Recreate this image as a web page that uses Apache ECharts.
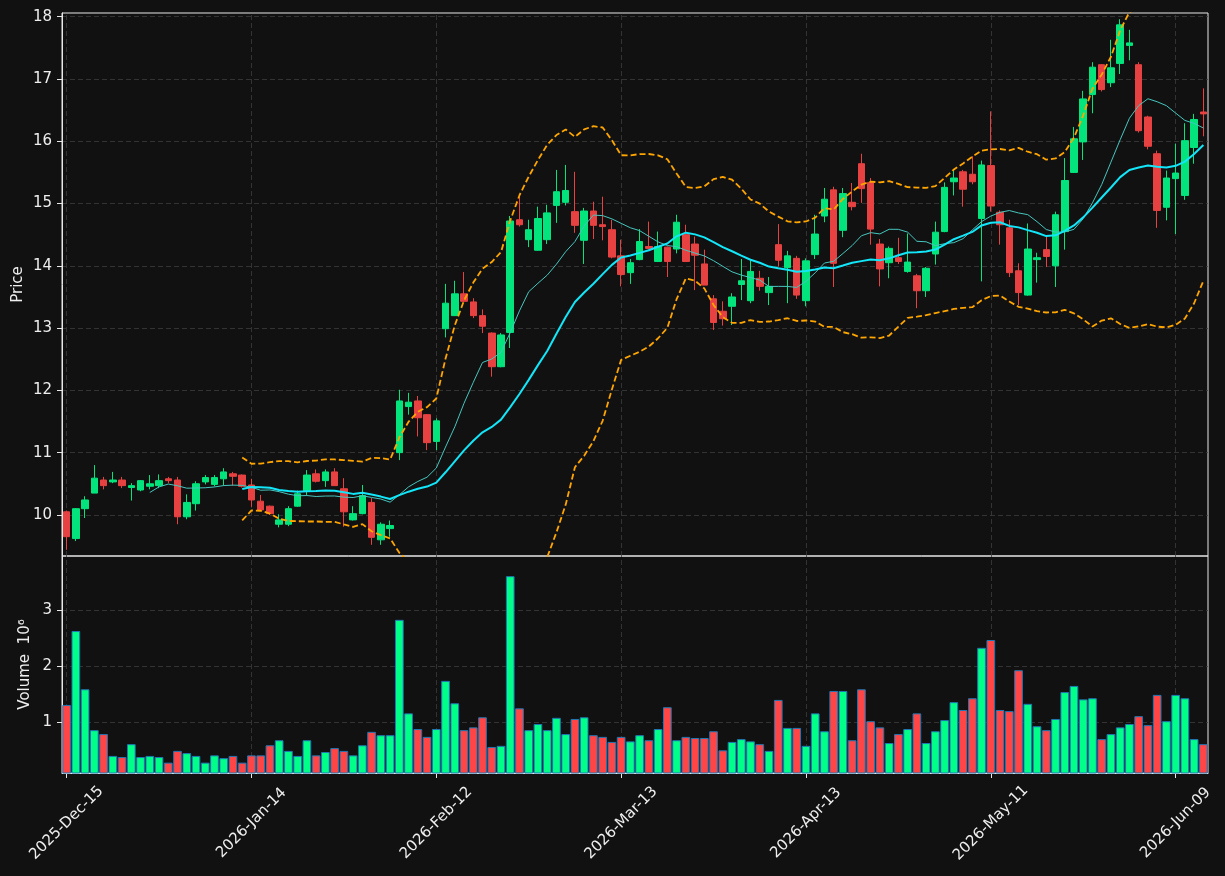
<!DOCTYPE html>
<html>
<head>
<meta charset="utf-8">
<title>Price / Volume</title>
<script src="https://cdn.jsdelivr.net/npm/echarts@6/dist/echarts.min.js"></script>
<style>
  html, body { margin: 0; padding: 0; background: #111111; }
  #chart { width: 1225px; height: 876px; }
</style>
</head>
<body>
<div id="chart"></div>
<script>
// ---------- data ----------
// trading calendar (weekdays, exchange holidays skipped)
const startDay = '2025-12-15'
const barCount = 124
const holidays = ['2025-12-25', '2026-01-01', '2026-01-19', '2026-02-16', '2026-04-03', '2026-05-25']
const labelStep = 20

const priceTicks = [10, 11, 12, 13, 14, 15, 16, 17, 18]
const volumeTicks = [1, 2, 3]

const opens = [
  10.05, 9.62, 10.10, 10.35, 10.56, 10.53, 10.56, 10.44, 10.40, 10.46,
  10.47, 10.58, 10.56, 9.97, 10.18, 10.53, 10.49, 10.58, 10.66, 10.64,
  10.48, 10.22, 10.14, 9.85, 9.85, 10.14, 10.39, 10.66, 10.55, 10.69,
  10.42, 9.92, 10.02, 10.20, 9.60, 9.78, 11.00, 11.74, 11.83, 11.61,
  11.18, 12.99, 13.20, 13.55, 13.42, 13.20, 12.92, 12.38, 12.93, 14.74,
  14.42, 14.25, 14.42, 14.97, 15.02, 14.87, 14.41, 14.88, 14.66, 14.58,
  14.16, 13.89, 14.10, 14.31, 14.07, 14.30, 14.27, 14.50, 14.35, 14.03,
  13.47, 13.27, 13.35, 13.70, 13.44, 13.80, 13.57, 14.34, 13.97, 14.12,
  13.44, 14.18, 14.80, 15.22, 14.57, 15.02, 15.64, 15.34, 14.35, 14.05,
  14.13, 13.91, 13.84, 13.60, 14.19, 14.55, 15.35, 15.51, 15.47, 14.76,
  15.61, 14.86, 14.61, 13.92, 13.53, 14.10, 14.26, 14.00, 14.55, 15.50,
  15.99, 16.75, 17.23, 16.94, 17.25, 17.54, 17.23, 16.39, 15.80, 14.94,
  15.40, 15.13, 15.90, 16.47
]
const closes = [
  9.65, 10.10, 10.24, 10.59, 10.47, 10.56, 10.47, 10.47, 10.55, 10.50,
  10.55, 10.55, 9.97, 10.20, 10.50, 10.60, 10.60, 10.69, 10.62, 10.46,
  10.24, 10.08, 10.02, 9.92, 10.10, 10.34, 10.64, 10.54, 10.69, 10.47,
  10.05, 10.02, 10.31, 9.64, 9.85, 9.83, 11.83, 11.81, 11.56, 11.16,
  11.51, 13.40, 13.55, 13.43, 13.20, 13.03, 12.38, 12.89, 14.72, 14.66,
  14.58, 14.76, 14.85, 15.19, 15.21, 14.65, 14.88, 14.65, 14.63, 14.14,
  13.86, 14.05, 14.39, 14.28, 14.31, 14.07, 14.70, 14.07, 14.17, 13.69,
  13.09, 13.15, 13.50, 13.76, 13.91, 13.67, 13.67, 14.09, 14.16, 13.53,
  14.08, 14.51, 15.07, 14.04, 15.16, 14.95, 15.24, 14.59, 13.95, 14.28,
  14.07, 14.06, 13.60, 13.96, 14.54, 15.26, 15.41, 15.23, 15.35, 15.62,
  14.96, 14.66, 13.89, 13.57, 14.27, 14.13, 14.15, 14.82, 15.37, 16.04,
  16.68, 17.19, 16.83, 17.18, 17.87, 17.58, 16.17, 15.92, 14.89, 15.41,
  15.49, 16.01, 16.35, 16.44
]
const lows = [
  9.44, 9.58, 9.95, 10.35, 10.41, 10.51, 10.43, 10.23, 10.38, 10.41,
  10.43, 10.51, 9.85, 9.93, 10.07, 10.49, 10.46, 10.47, 10.47, 10.44,
  10.13, 10.07, 10.00, 9.80, 9.82, 10.13, 10.32, 10.52, 10.45, 10.47,
  9.81, 9.91, 10.01, 9.52, 9.52, 9.65, 10.88, 11.61, 11.26, 11.04,
  11.04, 12.85, 13.20, 13.42, 13.16, 12.92, 12.22, 12.37, 12.68, 14.63,
  14.30, 14.24, 14.35, 14.69, 14.97, 14.53, 14.03, 14.43, 14.41, 14.12,
  13.67, 13.71, 14.09, 14.26, 14.06, 13.82, 14.20, 14.06, 13.61, 13.69,
  12.97, 13.04, 13.05, 13.45, 13.40, 13.60, 13.37, 13.99, 13.40, 13.47,
  13.35, 14.11, 14.70, 13.66, 14.46, 14.89, 15.01, 14.34, 13.67, 13.80,
  14.03, 13.89, 13.32, 13.50, 14.02, 14.54, 15.13, 14.95, 15.31, 13.75,
  14.87, 14.34, 13.82, 13.37, 13.52, 13.73, 13.98, 13.66, 14.26, 15.49,
  15.70, 16.45, 16.80, 16.87, 17.08, 17.30, 16.14, 15.87, 14.61, 14.73,
  14.51, 15.06, 15.64, 16.08
]
const highs = [
  10.07, 10.11, 10.30, 10.80, 10.61, 10.69, 10.61, 10.51, 10.56, 10.64,
  10.65, 10.61, 10.61, 10.33, 10.54, 10.64, 10.64, 10.75, 10.69, 10.65,
  10.58, 10.32, 10.15, 10.01, 10.14, 10.39, 10.72, 10.73, 10.73, 10.75,
  10.59, 10.14, 10.48, 10.27, 9.88, 9.91, 12.01, 11.96, 11.91, 11.62,
  11.55, 13.71, 13.76, 13.90, 13.48, 13.30, 12.93, 12.92, 14.80, 15.11,
  14.74, 14.95, 14.98, 15.54, 15.62, 15.51, 14.93, 15.03, 15.11, 14.74,
  14.42, 14.11, 14.59, 14.71, 14.55, 14.31, 14.82, 14.66, 14.47, 14.26,
  13.53, 13.43, 13.56, 14.11, 14.09, 13.92, 13.82, 14.67, 14.24, 14.16,
  14.12, 14.82, 15.25, 15.27, 15.25, 15.33, 15.80, 15.41, 14.43, 14.31,
  14.45, 14.52, 13.87, 13.98, 14.71, 15.34, 15.54, 15.54, 15.76, 15.69,
  16.48, 14.89, 14.74, 14.04, 14.68, 14.21, 14.47, 14.87, 15.73, 16.23,
  16.81, 17.27, 17.24, 17.63, 17.96, 17.79, 17.27, 16.41, 15.85, 15.53,
  15.96, 16.29, 16.44, 16.85
]
// volume in millions
const volumes = [
  1.30, 2.62, 1.58, 0.85, 0.78, 0.39, 0.37, 0.60, 0.37, 0.39,
  0.37, 0.27, 0.48, 0.44, 0.39, 0.27, 0.40, 0.35, 0.39, 0.27,
  0.40, 0.40, 0.58, 0.67, 0.48, 0.39, 0.67, 0.40, 0.46, 0.53,
  0.48, 0.40, 0.58, 0.82, 0.76, 0.76, 2.82, 1.15, 0.87, 0.73,
  0.87, 1.73, 1.33, 0.85, 0.90, 1.08, 0.55, 0.57, 3.60, 1.24,
  0.85, 0.96, 0.85, 1.07, 0.78, 1.05, 1.08, 0.76, 0.73, 0.64,
  0.73, 0.65, 0.76, 0.67, 0.87, 1.26, 0.67, 0.73, 0.71, 0.71,
  0.83, 0.49, 0.64, 0.69, 0.65, 0.60, 0.48, 1.39, 0.89, 0.89,
  0.57, 1.15, 0.83, 1.55, 1.55, 0.67, 1.58, 1.01, 0.90, 0.62,
  0.78, 0.87, 1.15, 0.62, 0.83, 1.03, 1.35, 1.21, 1.42, 2.32,
  2.46, 1.21, 1.19, 1.92, 1.32, 0.92, 0.85, 1.05, 1.53, 1.64,
  1.40, 1.42, 0.69, 0.78, 0.90, 0.96, 1.10, 0.94, 1.48, 1.01,
  1.48, 1.42, 0.69, 0.60
]

// ---------- derived ----------
const monthNames = ['Jan', 'Feb', 'Mar', 'Apr', 'May', 'Jun', 'Jul', 'Aug', 'Sep', 'Oct', 'Nov', 'Dec']
const makeDates = () => {
  const out = []
  const d = new Date(startDay + 'T00:00:00Z')
  while (out.length < barCount) {
    const iso = d.toISOString().slice(0, 10)
    const wd = d.getUTCDay()
    if (wd !== 0 && wd !== 6 && !holidays.includes(iso)) {
      out.push(d.getUTCFullYear() + '-' + monthNames[d.getUTCMonth()] + '-' + String(d.getUTCDate()).padStart(2, '0'))
    }
    d.setUTCDate(d.getUTCDate() + 1)
  }
  return out
}
const dates = makeDates()

const windowOf = (i, n) => closes.slice(i - n + 1, i + 1)
const mean = arr => arr.reduce((a, b) => a + b, 0) / arr.length
const movingAvg = n => closes.map((_, i) => i < n - 1 ? '-' : mean(windowOf(i, n)))
const ma10 = movingAvg(10)
const ma20 = movingAvg(20)
const bandUpper = []
const bandLower = []
closes.forEach((_, i) => {
  if (i < 19) { bandUpper.push('-'); bandLower.push('-'); return }
  const w = windowOf(i, 20)
  const m = mean(w)
  const sd = Math.sqrt(mean(w.map(v => (v - m) * (v - m))))
  bandUpper.push(m + 2 * sd)
  bandLower.push(m - 2 * sd)
})

// ---------- style ----------
const upColor = '#03e57c'
const downColor = '#e84141'
const volUp = '#00ff88'
const volDown = '#ff4545'
const frameColor = '#e8e8e8'
const textColor = '#eeeeee'
const font = 'DejaVu Sans'
const gridLine = { color: '#3c3c3c', type: [5, 3], width: 0.8 }

const labelIdx = dates.map((_, i) => i).filter(i => i % labelStep === 0)
// dashed grid drawn as mark lines, kept under the marks
const gridMarks = yVals => ({
  z: 0,
  silent: true,
  symbol: ['none', 'none'],
  label: { show: false },
  emphasis: { disabled: true },
  lineStyle: gridLine,
  animation: false,
  data: [
    ...labelIdx.map(i => ({ xAxis: dates[i] })),
    ...yVals.map(v => ({ yAxis: v }))
  ]
})

const chart = echarts.init(document.getElementById('chart'))
const option = {
  backgroundColor: '#111111',
  animation: false,
  textStyle: { fontFamily: font },
  grid: [
    { left: 62, right: 17, top: 13, height: 543, show: true, borderColor: frameColor, borderWidth: 1, backgroundColor: 'transparent' },
    { left: 62, right: 17, top: 556, height: 217, show: true, borderColor: frameColor, borderWidth: 1, backgroundColor: 'transparent' }
  ],
  xAxis: [
    {
      type: 'category', gridIndex: 0, data: dates,
      axisLine: { show: false }, axisTick: { show: false }, axisLabel: { show: false }, splitLine: { show: false }
    },
    {
      type: 'category', gridIndex: 1, data: dates,
      axisLine: { show: true, lineStyle: { color: frameColor } },
      axisTick: { show: true, alignWithLabel: true, interval: i => i % labelStep === 0, length: 5, lineStyle: { color: frameColor } },
      axisLabel: {
        interval: i => i % labelStep === 0,
        rotate: 45, align: 'center', verticalAlign: 'middle', margin: 50,
        color: textColor, fontSize: 15, fontFamily: font
      },
      splitLine: { show: false }
    }
  ],
  yAxis: [
    {
      type: 'value', gridIndex: 0, min: 9.34, max: 18.06,
      name: 'Price', nameLocation: 'middle', nameGap: 36, nameRotate: 90, nameMoveOverlap: false,
      nameTextStyle: { color: textColor, fontSize: 15, fontFamily: font },
      axisLine: { show: true, lineStyle: { color: frameColor } },
      axisTick: { show: true, customValues: priceTicks, length: 5, lineStyle: { color: frameColor } },
      axisLabel: { customValues: priceTicks, color: textColor, fontSize: 15, margin: 10, fontFamily: font },
      splitLine: { show: false }
    },
    {
      type: 'value', gridIndex: 1, min: 0.085, max: 3.96,
      name: 'Volume  10\u2076', nameLocation: 'middle', nameGap: 29, nameRotate: 90, nameMoveOverlap: false,
      nameTextStyle: { color: textColor, fontSize: 15, fontFamily: font },
      axisLine: { show: true, lineStyle: { color: frameColor } },
      axisTick: { show: true, customValues: volumeTicks, length: 5, lineStyle: { color: frameColor } },
      axisLabel: { customValues: volumeTicks, color: textColor, fontSize: 15, margin: 10, fontFamily: font },
      splitLine: { show: false }
    }
  ],
  series: [
    {
      type: 'line', xAxisIndex: 0, yAxisIndex: 0, data: closes, z: 1, silent: true,
      symbol: 'none', lineStyle: { opacity: 0 }, markLine: gridMarks(priceTicks)
    },
    {
      type: 'line', xAxisIndex: 1, yAxisIndex: 1, data: volumes, z: 1, silent: true,
      symbol: 'none', lineStyle: { opacity: 0 }, markLine: gridMarks(volumeTicks)
    },
    {
      name: 'OHLC', type: 'candlestick', xAxisIndex: 0, yAxisIndex: 0, z: 3,
      data: opens.map((o, i) => [o, closes[i], lows[i], highs[i]]),
      barWidth: 7,
      itemStyle: { color: upColor, color0: downColor, borderColor: upColor, borderColor0: downColor, borderWidth: 1 }
    },
    {
      name: 'MA10', type: 'line', xAxisIndex: 0, yAxisIndex: 0, data: ma10, z: 4,
      symbol: 'none', silent: true, lineStyle: { color: '#45c6be', width: 1 }
    },
    {
      name: 'MA20', type: 'line', xAxisIndex: 0, yAxisIndex: 0, data: ma20, z: 4,
      symbol: 'none', silent: true, lineStyle: { color: '#12e6f8', width: 2 }
    },
    {
      name: 'BB upper', type: 'line', xAxisIndex: 0, yAxisIndex: 0, data: bandUpper, z: 4,
      symbol: 'none', silent: true, lineStyle: { color: '#ffa500', width: 1.8, type: [6, 3] }
    },
    {
      name: 'BB lower', type: 'line', xAxisIndex: 0, yAxisIndex: 0, data: bandLower, z: 4,
      symbol: 'none', silent: true, lineStyle: { color: '#ffa500', width: 1.8, type: [6, 3] }
    },
    {
      name: 'Volume', type: 'bar', xAxisIndex: 1, yAxisIndex: 1, z: 3,
      barWidth: '94%',
      data: volumes.map((v, i) => ({
        value: v,
        itemStyle: { color: closes[i] >= opens[i] ? volUp : volDown }
      })),
      itemStyle: { borderColor: '#1f77b4', borderWidth: 1 }
    }
  ]
}
chart.setOption(option)
</script>
</body>
</html>
